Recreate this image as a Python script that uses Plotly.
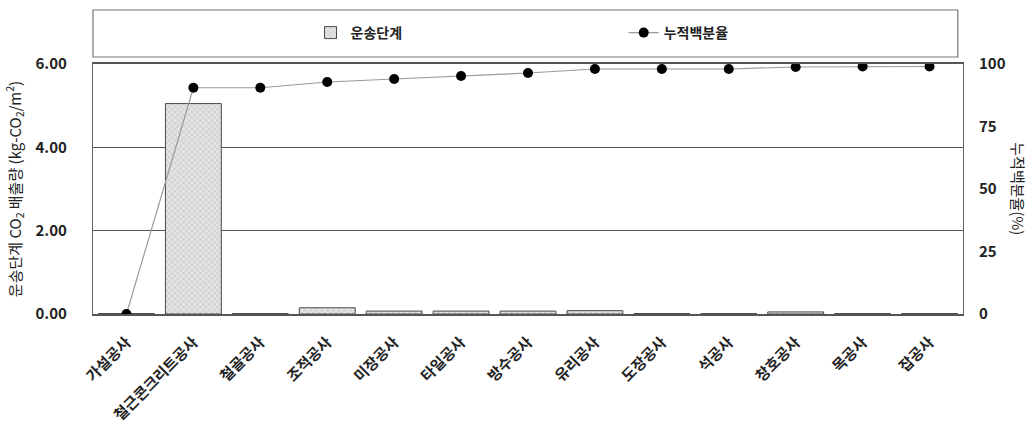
import plotly.graph_objects as go

# Construction work types
categories = ["가설공사", "철근콘크리트공사", "철골공사", "조적공사", "미장공사", "타일공사",
              "방수공사", "유리공사", "도장공사", "석공사", "창호공사", "목공사", "잡공사"]
# Transport-stage CO2 emissions (kg-CO2/m2)
emissions = [0.01, 5.05, 0.01, 0.15, 0.07, 0.07, 0.07, 0.08, 0.01, 0.01, 0.05, 0.01, 0.01]
# Cumulative percentage (%)
cumulative = [0.0, 90.5, 90.5, 92.8, 94.0, 95.2, 96.4, 98.0, 98.0, 98.0, 98.8, 99.0, 99.0]

left_ticks = [0, 2, 4, 6]
left_labels = ["0.00", "2.00", "4.00", "6.00"]
right_ticks = [0, 25, 50, 75, 100]

FONT = "Noto Sans CJK KR"
TXT = "#222222"

fig = go.Figure()

fig.add_trace(go.Bar(
    x=categories, y=emissions, name="운송단계",
    width=0.835,
    marker=dict(
        color="#e4e4e4",
        line=dict(color="#4a4a4a", width=1),
        pattern=dict(shape="x", fgcolor="#a0a0a0", bgcolor="#e4e4e4", size=4, solidity=0.3),
    ),
    legend="legend",
))

fig.add_trace(go.Scatter(
    x=categories, y=cumulative, name="누적백분율", yaxis="y2",
    mode="lines+markers",
    line=dict(color="#9a9a9a", width=1.2),
    marker=dict(color="#000000", size=10),
    legend="legend2",
))

fig.update_layout(
    width=1028, height=423,
    margin=dict(l=93, r=65, t=64, b=109, autoexpand=False),
    paper_bgcolor="white", plot_bgcolor="white",
    font=dict(family=FONT, size=13, color=TXT),
    xaxis=dict(
        range=[-0.5, len(categories) - 0.5], automargin=False,
        tickangle=-45, showgrid=False, showline=True, linecolor="#555555", linewidth=1.5,
        mirror=True, ticks="", ticklabelstandoff=12,
        tickfont=dict(family=FONT, size=15, color=TXT, weight="bold"),
    ),
    yaxis=dict(
        range=[0, 6], tickvals=left_ticks, ticktext=left_labels, automargin=False,
        showgrid=True, gridcolor="#555555", gridwidth=1, zeroline=False,
        showline=True, linecolor="#666666", linewidth=1.2, mirror=True, ticks="",
        ticklabelstandoff=22,
        tickfont=dict(family=FONT, size=15, color=TXT, weight="bold"),
        title=dict(text="운송단계 CO<sub>2</sub> 배출량 (kg-CO<sub>2</sub>/m<sup>2</sup>)",
                   font=dict(family=FONT, size=15, color=TXT), standoff=10),
    ),
    yaxis2=dict(
        range=[0, 100], tickvals=right_ticks, overlaying="y", side="right", automargin=False,
        showgrid=False, zeroline=False, showline=False, ticks="",
        ticklabelstandoff=15,
        tickfont=dict(family=FONT, size=15, color=TXT, weight="bold"),
    ),
    legend=dict(
        x=0.25, y=1.124, xanchor="left", yanchor="middle", orientation="h",
        bgcolor="rgba(0,0,0,0)", font=dict(family=FONT, size=14, color=TXT, weight="bold"),
        itemwidth=30,
    ),
    legend2=dict(
        x=0.61, y=1.124, xanchor="left", yanchor="middle", orientation="h",
        bgcolor="rgba(0,0,0,0)", font=dict(family=FONT, size=14, color=TXT, weight="bold"),
        itemwidth=30,
    ),
    shapes=[dict(
        type="rect", xref="paper", yref="paper",
        x0=0, x1=0.994, y0=1.028, y1=1.216,
        line=dict(color="#777777", width=1.2), fillcolor="rgba(0,0,0,0)",
    )],
    annotations=[dict(
        text="누적백분율(%)", xref="paper", yref="paper", x=1.064, y=0.5,
        textangle=90, showarrow=False, xanchor="center", yanchor="middle",
        font=dict(family=FONT, size=15, color=TXT),
    )],
    showlegend=True,
)

fig.write_html("out.html")
